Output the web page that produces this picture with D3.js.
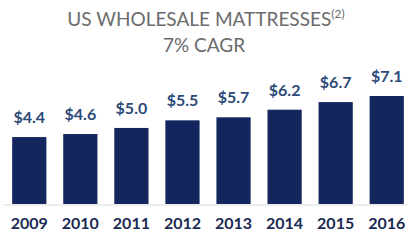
<!DOCTYPE html>
<html>
<head>
<meta charset="utf-8">
<script src="https://cdn.jsdelivr.net/npm/d3@7"></script>
<style>
body{margin:0;background:#fff}
svg{display:block}
</style>
</head>
<body>
<div id="chart"></div>
<script>
var width = 407
var height = 242
var years = ["2009","2010","2011","2012","2013","2014","2015","2016"]
var values = [4.4,4.6,5.0,5.5,5.7,6.2,6.7,7.1]
var titleLines = ["US WHOLESALE MATTRESSES","7% CAGR"]
var footnote = "(2)"

var barColor = "#13275e"
var labelColor = "#2c4a78"
var yearColor = "#1b2a52"
var font = "Lato, 'Open Sans', sans-serif"

var svg = d3.select("#chart").append("svg")
	.attr("width",width)
	.attr("height",height)

var baseY = 204
var x = d3.scaleBand().domain(years).range([4,412]).paddingInner(0.33).paddingOuter(0.16)
var y = d3.scaleLinear().domain([0,7.1]).range([baseY,96])

// title
var t1 = svg.append("text")
	.attr("x",206).attr("y",26)
	.attr("text-anchor","middle")
	.style("font-family",font).style("font-size","19px").style("fill","#6b6b6b")
t1.append("tspan").text(titleLines[0])
t1.append("tspan").attr("dy",-8).style("font-size","12px").text(footnote)
svg.append("text")
	.attr("x",204).attr("y",52)
	.attr("text-anchor","middle")
	.style("font-family",font).style("font-size","19px").style("fill","#6b6b6b")
	.text(titleLines[1])

// axis line
svg.append("line")
	.attr("x1",4).attr("x2",width)
	.attr("y1",baseY+1).attr("y2",baseY+1)
	.style("stroke","#d9d9d9").style("stroke-width",1)

svg.selectAll(".bar")
	.data(values)
	.enter()
	.append("rect")
	.attr("class","bar")
	.attr("x",function(d,i){ return x(years[i]) })
	.attr("width",x.bandwidth())
	.attr("y",function(d){ return y(d) })
	.attr("height",function(d){ return baseY-y(d) })
	.style("fill",barColor)

svg.selectAll(".val")
	.data(values)
	.enter()
	.append("text")
	.attr("class","val")
	.attr("x",function(d,i){ return x(years[i])+x.bandwidth()/2 })
	.attr("y",function(d){ return y(d)-14 })
	.attr("text-anchor","middle")
	.style("font-family",font).style("font-weight","bold").style("font-size","16px")
	.style("fill",labelColor)
	.text(function(d){ return "$"+d.toFixed(1) })

svg.selectAll(".year")
	.data(years)
	.enter()
	.append("text")
	.attr("class","year")
	.attr("x",function(d){ return x(d)+x.bandwidth()/2 })
	.attr("y",229)
	.attr("text-anchor","middle")
	.style("font-family",font).style("font-weight","bold").style("font-size","16px")
	.style("fill",yearColor)
	.text(function(d){ return d })
</script>
</body>
</html>
